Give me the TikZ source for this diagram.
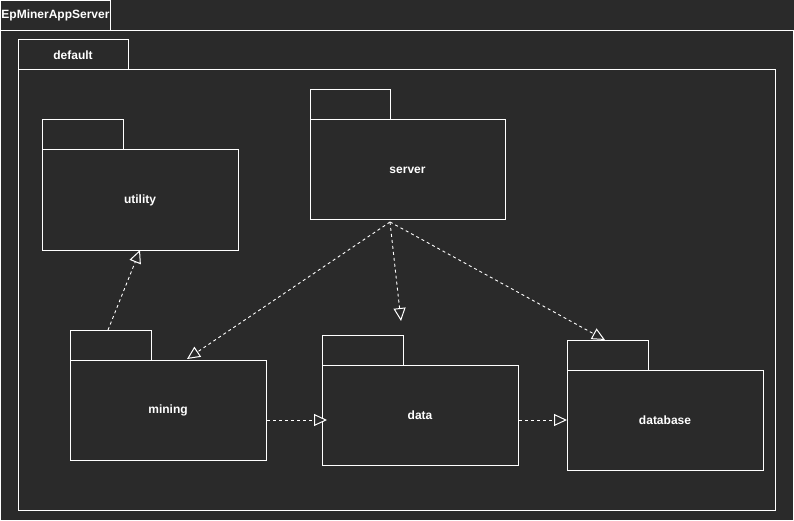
\documentclass[tikz,border=0pt]{standalone}
\usepackage{fontspec}
\setmainfont{Liberation Sans}
\usetikzlibrary{arrows.meta,calc}
\definecolor{bg}{HTML}{2A2A2A}
\begin{document}
\begin{tikzpicture}[x=1pt,y=-1pt,
  frame/.style={draw=white, line width=1pt, fill=bg, inner sep=0pt, outer sep=0pt,
    anchor=north west, text=white, font=\bfseries\fontsize{12}{14}\selectfont},
  dep/.style={draw=white, line width=0.9pt, dash pattern=on 3pt off 3pt,
    -{Triangle[open, length=13pt, width=12pt, line width=1pt, fill=bg]}}
]
\fill[bg] (0,0) rectangle (794,521);
\useasboundingbox (0,0) rectangle (794,521);

% outer package
\node[frame, minimum width=110pt, minimum height=30pt] (apptab) at (0.5,0.5) {EpMinerAppServer};
\node[frame, minimum width=793pt, minimum height=490pt] (app) at (0.5,30.5) {};

% default package
\node[frame, minimum width=110pt, minimum height=30pt] (deftab) at (18,40) {default};
\node[frame, minimum width=757pt, minimum height=440pt] (def) at (18,70) {};

% sub packages: tab + body
\node[frame, minimum width=81pt, minimum height=30pt] (utiltab) at (42,120) {};
\node[frame, minimum width=196pt, minimum height=100pt] (util) at (42,150) {utility};

\node[frame, minimum width=80pt, minimum height=30pt] (servtab) at (310,90) {};
\node[frame, minimum width=195pt, minimum height=100pt] (serv) at (310,120) {server};

\node[frame, minimum width=81pt, minimum height=30pt] (mintab) at (70,330) {};
\node[frame, minimum width=196pt, minimum height=100pt] (min) at (70,360) {mining};

\node[frame, minimum width=81pt, minimum height=30pt] (datatab) at (322,335) {};
\node[frame, minimum width=196pt, minimum height=100pt] (data) at (322,365) {data};

\node[frame, minimum width=81pt, minimum height=30pt] (dbtab) at (567,340) {};
\node[frame, minimum width=196pt, minimum height=100pt] (db) at (567,370) {database};

% connector end points
\coordinate (srvout) at (390,222);
\coordinate (dataend) at (401,321);

% dependencies
\draw[dep] ($(mintab.north west)+(38,0)$) -- ($(util.south west)+(98,0)$);
\draw[dep] (srvout) -- ($(min.north west)+(117,-1)$);
\draw[dep] (srvout) -- (dataend);
\draw[dep] (srvout) -- ($(dbtab.north west)+(38,0)$);
\draw[dep] ($(min.east)+(1,10)$) -- ($(data.west)+(5,5)$);
\draw[dep] ($(data.east)+(1,5)$) -- ($(db.west)+(0,0)$);
\end{tikzpicture}
\end{document}
